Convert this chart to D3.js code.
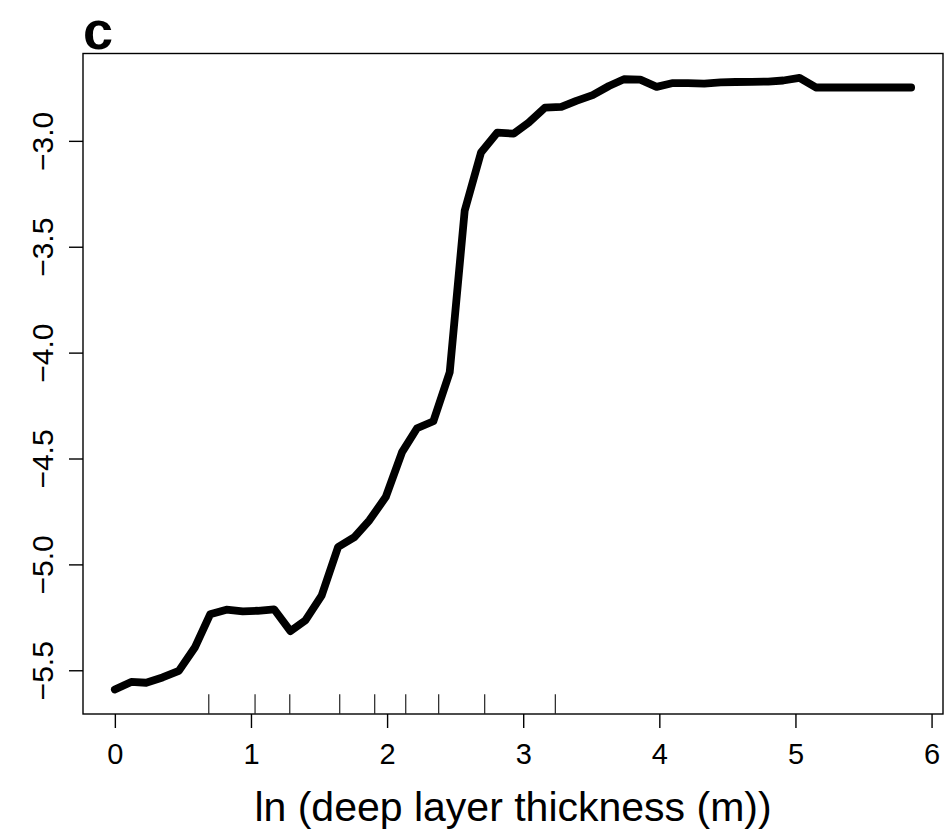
<!DOCTYPE html>
<html>
<head>
<meta charset="utf-8">
<script src="https://cdn.jsdelivr.net/npm/d3@7"></script>
<style>
    body { margin: 0; background: #fff; }
    text { font-family: "Liberation Sans", Arial, Helvetica, sans-serif; fill: #000; }
</style>
</head>
<body>
<div id="partial-plot"></div>
<script>
// ln(deep layer thickness) grid and fitted response
var thickness = [0, 0.12, 0.23, 0.35, 0.47, 0.59, 0.70, 0.82, 0.94, 1.05,
    1.17, 1.29, 1.40, 1.52, 1.64, 1.76, 1.87, 1.99, 2.11, 2.22,
    2.34, 2.46, 2.57, 2.69, 2.81, 2.93, 3.04, 3.16, 3.28, 3.39,
    3.51, 3.63, 3.74, 3.86, 3.98, 4.10, 4.21, 4.33, 4.45, 4.56,
    4.68, 4.80, 4.91, 5.03, 5.15, 5.27, 5.38, 5.50, 5.62, 5.73, 5.85];
var response = [-5.591, -5.555, -5.559, -5.534, -5.503, -5.390, -5.236, -5.214, -5.222, -5.219,
    -5.212, -5.315, -5.264, -5.146, -4.918, -4.871, -4.792, -4.682, -4.470, -4.357,
    -4.324, -4.093, -3.330, -3.055, -2.961, -2.966, -2.914, -2.843, -2.840, -2.811,
    -2.784, -2.741, -2.709, -2.711, -2.745, -2.727, -2.727, -2.730, -2.724, -2.722,
    -2.721, -2.720, -2.715, -2.703, -2.748, -2.748, -2.748, -2.748, -2.748, -2.748, -2.748];
// observed values shown as rug
var rugValues = [0.69, 1.03, 1.285, 1.652, 1.909, 2.137, 2.379, 2.717, 3.236];
var xTicks = [0, 1, 2, 3, 4, 5, 6];
var yTicks = [-5.5, -5.0, -4.5, -4.0, -3.5, -3.0];
var panelLabel = "c";
var xTitle = "ln (deep layer thickness (m))";

var width = 947, height = 834;
var margin = {top: 53.5, right: 4, bottom: 120, left: 83};

var svg = d3.select("#partial-plot").append("svg")
    .attr("width", width)
    .attr("height", height);

// R style: pad the data range by 4% on each side
function padded(ext) {
    var d = (ext[1] - ext[0]) * 0.04;
    return [ext[0] - d, ext[1] + d];
}

var x = d3.scaleLinear()
    .domain(padded(d3.extent(thickness)))
    .range([margin.left, width - margin.right]);
var y = d3.scaleLinear()
    .domain(padded(d3.extent(response)))
    .range([height - margin.bottom, margin.top]);

var data = thickness.map(function(t, i) { return {x: t, y: response[i]}; });

// box
svg.append("rect")
    .attr("x", x.range()[0])
    .attr("y", y.range()[1])
    .attr("width", x.range()[1] - x.range()[0])
    .attr("height", y.range()[0] - y.range()[1])
    .attr("fill", "none")
    .attr("stroke", "#000")
    .attr("stroke-width", 1.4);

// axes
var xAxis = d3.axisBottom(x).tickValues(xTicks).tickSize(14).tickPadding(8)
    .tickFormat(d3.format("d"));
var gx = svg.append("g")
    .attr("transform", "translate(0," + y.range()[0] + ")")
    .call(xAxis);
gx.select(".domain").remove();
gx.selectAll("line").attr("stroke", "#000").attr("stroke-width", 1.4);
gx.selectAll("text").style("font-size", "29px").attr("dy", "0.95em");

var yAxis = d3.axisLeft(y).tickValues(yTicks).tickSize(14)
    .tickFormat(function(d) { return d3.format(".1f")(d).replace("-", "\u2212"); });
var gy = svg.append("g")
    .attr("transform", "translate(" + x.range()[0] + ",0)")
    .call(yAxis);
gy.select(".domain").remove();
gy.selectAll("line").attr("stroke", "#000").attr("stroke-width", 1.4);
gy.selectAll("text")
    .style("font-size", "30px")
    .attr("x", null).attr("dy", null)
    .attr("text-anchor", "middle")
    .attr("transform", "translate(-30,0) rotate(-90)");

// rug
svg.append("g").selectAll("line")
    .data(rugValues)
    .enter().append("line")
    .attr("x1", function(d) { return x(d); })
    .attr("x2", function(d) { return x(d); })
    .attr("y1", y.range()[0])
    .attr("y2", y.range()[0] - 0.03 * (y.range()[0] - y.range()[1]))
    .attr("stroke", "#222")
    .attr("stroke-width", 1.2);

// fitted curve
var line = d3.line()
    .x(function(d) { return x(d.x); })
    .y(function(d) { return y(d.y); });
svg.append("path")
    .datum(data)
    .attr("d", line)
    .attr("fill", "none")
    .attr("stroke", "#000")
    .attr("stroke-width", 7.8)
    .attr("stroke-linejoin", "round")
    .attr("stroke-linecap", "round");

svg.append("text")
    .attr("x", (x.range()[0] + x.range()[1]) / 2)
    .attr("y", 821)
    .attr("text-anchor", "middle")
    .style("font-size", "41px")
    .text(xTitle);

svg.append("text")
    .attr("x", 83)
    .attr("y", 49)
    .style("font-size", "54px")
    .style("font-weight", "bold")
    .text(panelLabel);
</script>
</body>
</html>
